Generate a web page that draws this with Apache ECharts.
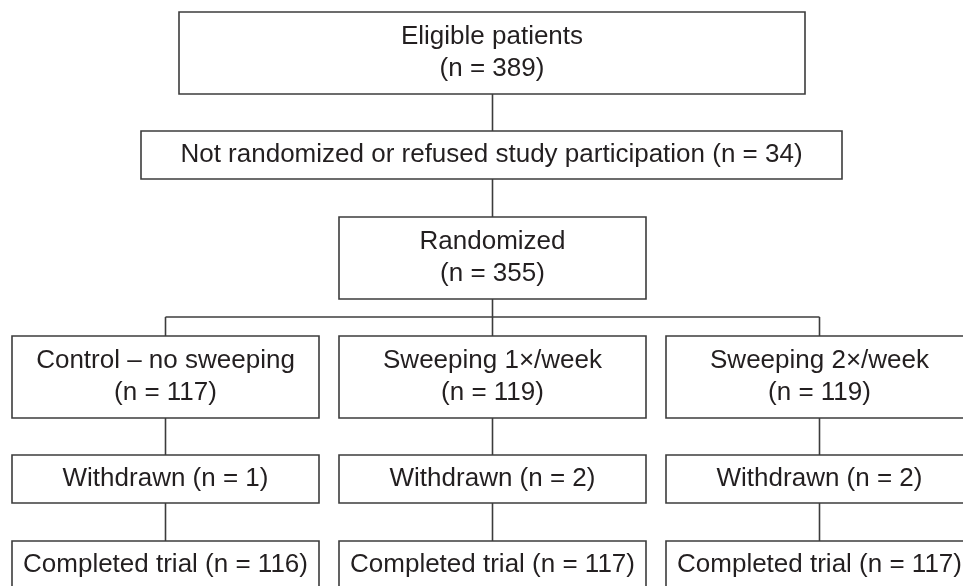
<!DOCTYPE html>
<html>
<head>
<meta charset="utf-8">
<script src="https://cdn.jsdelivr.net/npm/echarts@6/dist/echarts.min.js"></script>
<style>
  html, body { margin: 0; padding: 0; background: #ffffff; }
  #chart { width: 963px; height: 586px; }
</style>
</head>
<body>
<div id="chart"></div>
<script>
// ---- Data (flow counts) ----
const stageLabels = ['Eligible patients', 'Not randomized or refused study participation', 'Randomized'];
const stageCounts = [389, 34, 355];
const groupLabels = ['Control – no sweeping', 'Sweeping 1×/week', 'Sweeping 2×/week'];
const groupCounts = [117, 119, 119];
const withdrawnCounts = [1, 2, 2];
const completedCounts = [116, 117, 117];

// ---- Layout (box extents in chart units: x0, y0, x1, y1) ----
const stageBoxes = [
  [179, 12, 805, 94],
  [141, 131, 842, 179],
  [339, 217, 646, 299]
];
const columnX = [[12, 319], [339, 646], [666, 973]];
const groupRowY = [336, 418];
const withdrawnRowY = [455, 503];
const completedRowY = [541, 590];
const busY = 317;

const n = v => '(n = ' + v + ')';

// Build boxes: [x0, y0, x1, y1, text]
const boxes = [];
boxes.push([...stageBoxes[0], stageLabels[0] + '\n' + n(stageCounts[0])]);
boxes.push([...stageBoxes[1], stageLabels[1] + ' ' + n(stageCounts[1])]);
boxes.push([...stageBoxes[2], stageLabels[2] + '\n' + n(stageCounts[2])]);
groupLabels.forEach((g, i) => boxes.push([columnX[i][0], groupRowY[0], columnX[i][1], groupRowY[1], g + '\n' + n(groupCounts[i])]));
withdrawnCounts.forEach((w, i) => boxes.push([columnX[i][0], withdrawnRowY[0], columnX[i][1], withdrawnRowY[1], 'Withdrawn ' + n(w)]));
completedCounts.forEach((c, i) => boxes.push([columnX[i][0], completedRowY[0], columnX[i][1], completedRowY[1], 'Completed trial ' + n(c)]));

const cx = b => (b[0] + b[2]) / 2;
const spineX = cx(stageBoxes[2]);

// Connector segments [x0, y0, x1, y1]
const segments = [];
segments.push([spineX, stageBoxes[0][3], spineX, stageBoxes[1][1]]);
segments.push([spineX, stageBoxes[1][3], spineX, stageBoxes[2][1]]);
segments.push([spineX, stageBoxes[2][3], spineX, busY]);
const colCenters = columnX.map(c => (c[0] + c[1]) / 2);
segments.push([colCenters[0], busY, colCenters[colCenters.length - 1], busY]);
colCenters.forEach(x => {
  segments.push([x, busY, x, groupRowY[0]]);
  segments.push([x, groupRowY[1], x, withdrawnRowY[0]]);
  segments.push([x, withdrawnRowY[1], x, completedRowY[0]]);
});

const LINE = '#3c3c3c';
const FONT = '26px "Liberation Sans", Arial, Helvetica, sans-serif';

const chart = echarts.init(document.getElementById('chart'), null, { renderer: 'canvas' });
chart.setOption({
  animation: false,
  backgroundColor: '#ffffff',
  grid: { left: 0, right: 0, top: 0, bottom: 0 },
  xAxis: { type: 'value', min: 0, max: 963, show: false },
  yAxis: { type: 'value', min: 0, max: 586, inverse: true, show: false },
  series: [
    {
      type: 'custom',
      coordinateSystem: 'cartesian2d',
      clip: false,
      data: segments,
      renderItem: function (params, api) {
        const p0 = api.coord([api.value(0), api.value(1)]);
        const p1 = api.coord([api.value(2), api.value(3)]);
        return {
          type: 'line',
          shape: { x1: p0[0], y1: p0[1], x2: p1[0], y2: p1[1] },
          style: { stroke: LINE, lineWidth: 1.6 }
        };
      }
    },
    {
      type: 'custom',
      coordinateSystem: 'cartesian2d',
      clip: false,
      data: boxes.map((b, i) => [b[0], b[1], b[2], b[3], i]),
      renderItem: function (params, api) {
        const p0 = api.coord([api.value(0), api.value(1)]);
        const p1 = api.coord([api.value(2), api.value(3)]);
        const txt = boxes[api.value(4)][4];
        const multi = txt.indexOf('\n') >= 0;
        const ty = multi ? (p0[1] + p1[1]) / 2 : p0[1] + 24;
        return {
          type: 'group',
          children: [
            {
              type: 'rect',
              shape: { x: p0[0], y: p0[1], width: p1[0] - p0[0], height: p1[1] - p0[1] },
              style: { fill: '#ffffff', stroke: LINE, lineWidth: 1.6 }
            },
            {
              type: 'text',
              style: {
                text: txt,
                x: (p0[0] + p1[0]) / 2,
                y: ty,
                align: 'center',
                verticalAlign: 'middle',
                font: FONT,
                lineHeight: 32,
                fill: '#231f20'
              }
            }
          ]
        };
      }
    }
  ]
});
</script>
</body>
</html>
